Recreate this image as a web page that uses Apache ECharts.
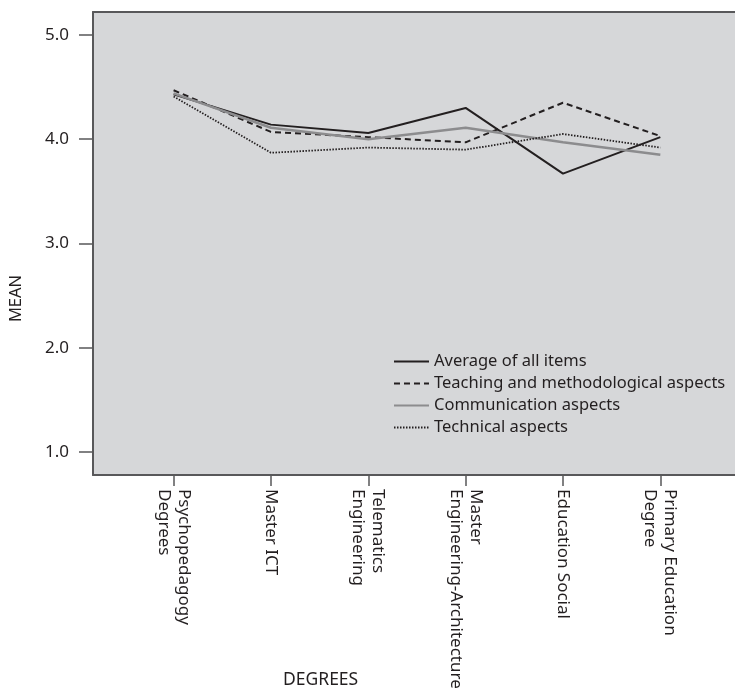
<!DOCTYPE html>
<html>
<head>
<meta charset="utf-8">
<script src="https://cdn.jsdelivr.net/npm/echarts@6/dist/echarts.min.js"></script>
<style>
html,body{margin:0;padding:0;background:#fff;}
#chart{width:735px;height:695px;}
</style>
</head>
<body>
<div id="chart"></div>
<script>
const categories = ['Psychopedagogy\nDegrees', 'Master ICT', 'Telematics\nEngineering', 'Master\nEngineering-Architecture', 'Education Social', 'Primary Education\nDegree'];
const average = [4.43, 4.14, 4.06, 4.30, 3.67, 4.02];
const teaching = [4.47, 4.07, 4.02, 3.97, 4.35, 4.03];
const communication = [4.44, 4.11, 4.00, 4.11, 3.97, 3.85];
const technical = [4.41, 3.87, 3.92, 3.90, 4.05, 3.92];
const yTicks = [1, 2, 3, 4, 5];
const seriesNames = ['Average of all items', 'Teaching and methodological aspects', 'Communication aspects', 'Technical aspects'];

const txt = '#231f20';
const axisCol = '#58585a';
const font = 'Noto Sans';
const xIdx = categories.map((c, i) => i);
const toPts = arr => arr.map((v, i) => [xIdx[i], v]);

const chart = echarts.init(document.getElementById('chart'), null, {renderer: 'canvas'});
chart.setOption({
  backgroundColor: '#ffffff',
  animation: false,
  textStyle: {fontFamily: font, color: txt},
  title: [
    {text: 'DEGREES', left: 283, top: 671, padding: 0,
      textStyle: {fontFamily: font, fontSize: 17.5, fontWeight: 'normal', color: txt}}
  ],
  grid: {left: 90, top: 12, right: 0, bottom: 220, show: true, backgroundColor: '#d6d7d9', borderWidth: 0},
  legend: {
    orient: 'vertical', left: 388, top: 348,
    itemWidth: 35, itemHeight: 14, itemGap: 5,
    itemStyle: {opacity: 0},
    textStyle: {fontFamily: font, fontSize: 16.5, color: txt, padding: [0, 0, 0, 0]},
    data: seriesNames
  },
  xAxis: [{
    type: 'value', min: -0.828, max: 5.767, position: 'bottom',
    axisLine: {show: true, onZero: false, lineStyle: {color: axisCol, width: 2}},
    axisTick: {show: true, customValues: xIdx, length: 11, lineStyle: {color: axisCol, width: 1.5}},
    axisLabel: {customValues: xIdx, rotate: -90, margin: 14, fontFamily: font, fontSize: 17, color: txt, lineHeight: 20,
      formatter: v => categories[Math.round(v)]},
    splitLine: {show: false}
  }, {
    type: 'value', min: -0.828, max: 5.767, position: 'top',
    axisLine: {show: true, onZero: false, lineStyle: {color: axisCol, width: 2}},
    axisTick: {show: false}, axisLabel: {show: false}, splitLine: {show: false}
  }],
  yAxis: {
    type: 'value', min: 0.78, max: 5.22,
    name: 'MEAN', nameLocation: 'middle', nameGap: 68, nameRotate: 90,
    nameTextStyle: {fontFamily: font, fontSize: 16.5, color: txt, padding: [0, 0, 0, -110]},
    axisLine: {show: true, onZero: false, lineStyle: {color: axisCol, width: 2}},
    axisTick: {show: true, customValues: yTicks, length: 14, lineStyle: {color: axisCol, width: 1.5}},
    axisLabel: {customValues: yTicks, margin: 24, fontFamily: font, fontSize: 17, color: txt, formatter: v => v.toFixed(1)},
    splitLine: {show: false}
  },
  series: [
    {name: seriesNames[0], type: 'line', data: toPts(average), symbol: 'none',
      lineStyle: {color: '#231f20', width: 2}, itemStyle: {color: '#231f20'}},
    {name: seriesNames[1], type: 'line', data: toPts(teaching), symbol: 'none',
      lineStyle: {color: '#231f20', width: 2, type: [6, 4]}, itemStyle: {color: '#231f20'}},
    {name: seriesNames[2], type: 'line', data: toPts(communication), symbol: 'none',
      lineStyle: {color: '#8c8c8e', width: 2.5}, itemStyle: {color: '#8c8c8e'}},
    {name: seriesNames[3], type: 'line', data: toPts(technical), symbol: 'none',
      lineStyle: {color: '#231f20', width: 1.8, type: [1.5, 1.5]}, itemStyle: {color: '#231f20'}}
  ]
});
</script>
</body>
</html>
